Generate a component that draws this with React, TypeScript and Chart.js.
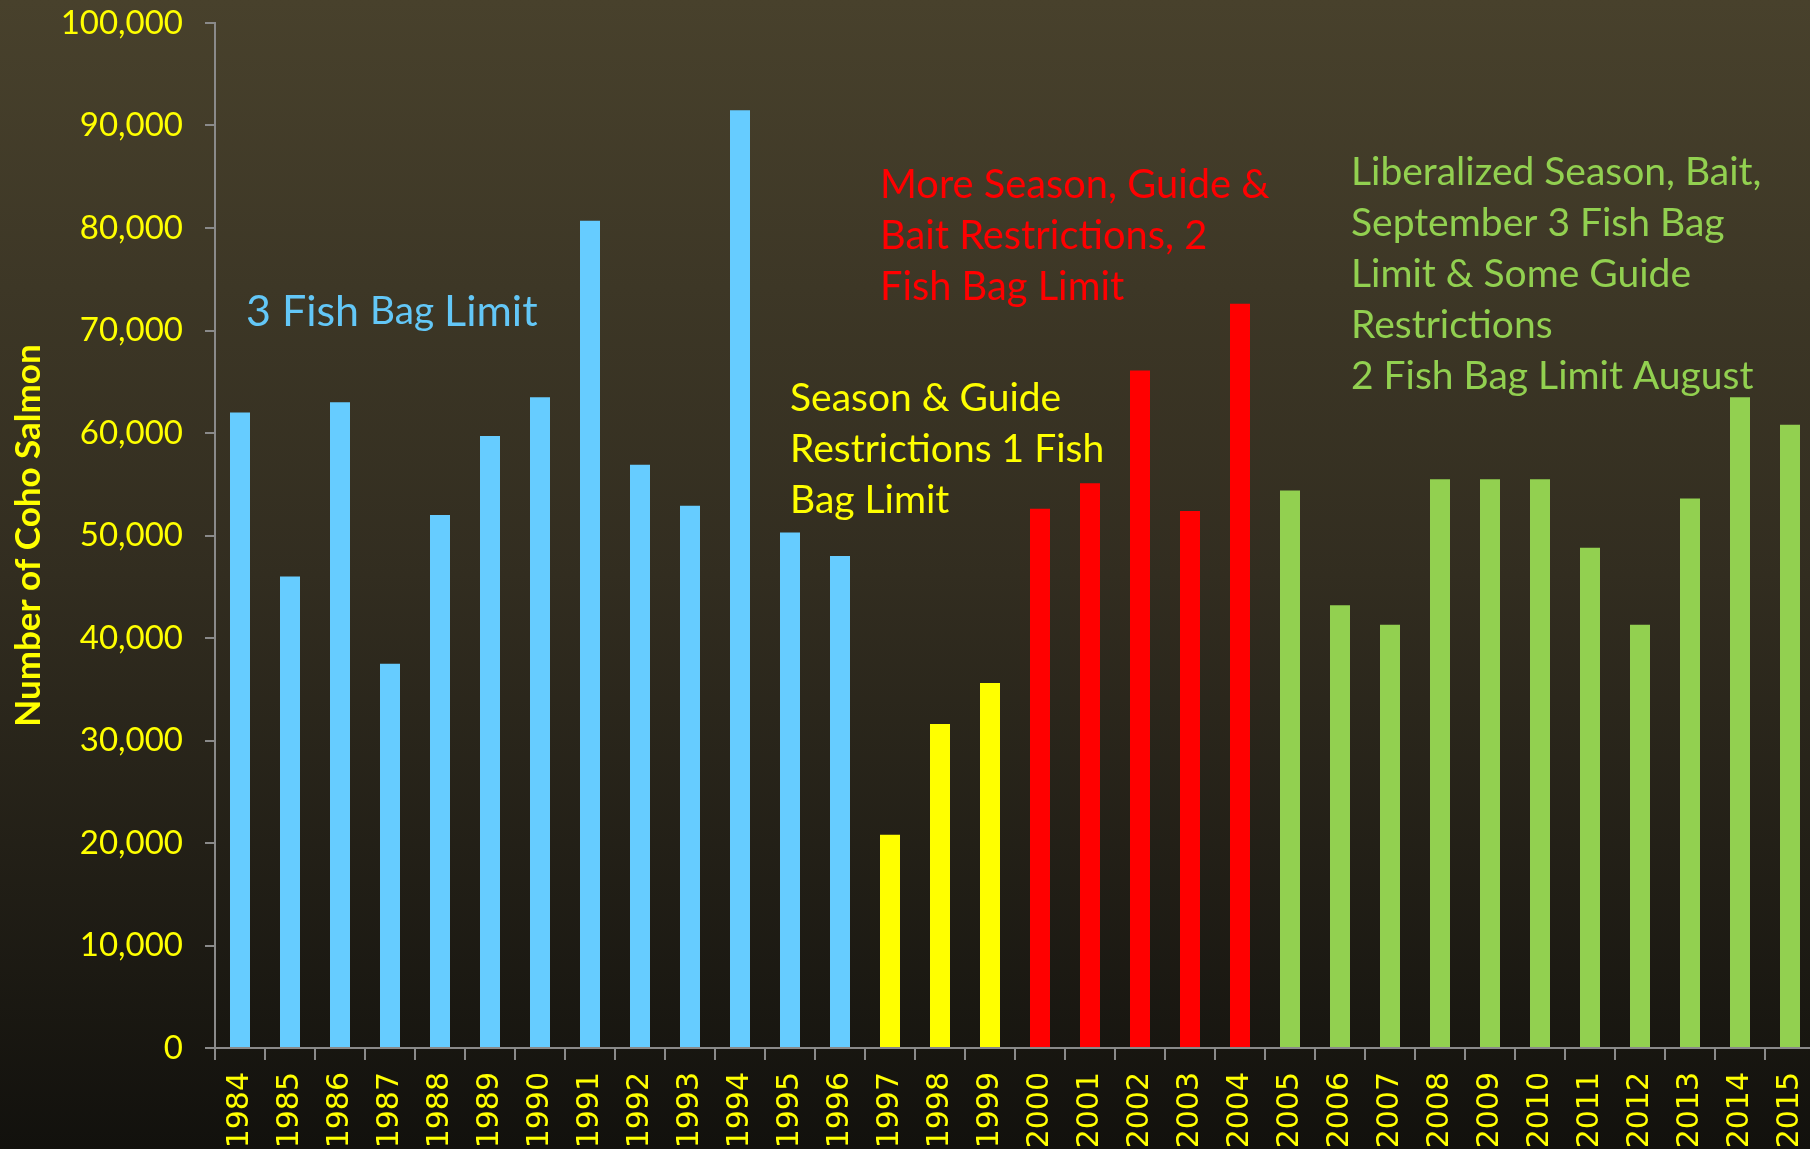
import { useEffect, useRef } from 'react';
import { Chart, registerables } from 'chart.js';

Chart.register(...registerables);

// ---------------- DATA ----------------
const years = [
  '1984', '1985', '1986', '1987', '1988', '1989', '1990', '1991', '1992', '1993', '1994',
  '1995', '1996', '1997', '1998', '1999', '2000', '2001', '2002', '2003', '2004', '2005',
  '2006', '2007', '2008', '2009', '2010', '2011', '2012', '2013', '2014', '2015',
];

const cohoCatch = [
  62000, 46000, 63000, 37500, 52000, 59700, 63500, 80700, 56900, 52900, 91500,
  50300, 48000, 20800, 31600, 35600, 52600, 55100, 66100, 52400, 72600, 54400,
  43200, 41300, 55500, 55500, 55500, 48800, 41300, 53600, 63500, 60800,
];

// regulation period of each year (index into regimeColors / regimeNotes)
const regimeOfYear = [
  0, 0, 0, 0, 0, 0, 0, 0, 0, 0, 0, 0, 0,
  1, 1, 1,
  2, 2, 2, 2, 2,
  3, 3, 3, 3, 3, 3, 3, 3, 3, 3, 3,
];

const regimeColors = ['#66CCFF', '#FFFF00', '#FF0000', '#92D050'];

const yTickValues = [0, 10000, 20000, 30000, 40000, 50000, 60000, 70000, 80000, 90000, 100000];

const yAxisTitle = 'Number of Coho Salmon';

// annotation texts (segments with relative size)
const regimeNotes = [
  [[{ t: '3 Fish ', s: 1 }, { t: 'Bag ', s: 0.9 }, { t: 'Limit', s: 1 }]],
  [[{ t: 'Season & Guide', s: 1 }], [{ t: 'Restrictions 1 Fish', s: 1 }], [{ t: 'Bag Limit', s: 1 }]],
  [[{ t: 'More Season, Guide &', s: 1 }], [{ t: 'Bait Restrictions, 2', s: 1 }], [{ t: 'Fish Bag Limit', s: 1 }]],
  [
    [{ t: 'Liberalized Season, Bait,', s: 1 }],
    [{ t: 'September 3 Fish Bag', s: 1 }],
    [{ t: 'Limit & Some Guide', s: 1 }],
    [{ t: 'Restrictions', s: 1 }],
    [{ t: '2 Fish Bag Limit August', s: 1 }],
  ],
];

// ---------------- STYLE / LAYOUT ----------------
const W = 1815;
const H = 1149;
const Y_AXIS_WIDTH = 215;
const X_AXIS_HEIGHT = 101;
const TOP_PAD = 23;
const AXIS_GRAY = '#8a8a8a';
const NOTE_FONT = 'Lato, "Open Sans", sans-serif';
const NOTE_LINE = 51;

// position (left x, first-line centre y), size and text colour of each note
const notePlacement = [
  { x: 246, y: 312, size: 43, color: '#63C7F7' },
  { x: 790, y: 398, size: 39, color: '#FFFF00' },
  { x: 880, y: 185, size: 39.8, color: '#FF0000' },
  { x: 1351, y: 172, size: 39, color: '#92D050' },
];

const backgroundPlugin = {
  id: 'bgGradient',
  beforeDraw(chart: any) {
    const { ctx, width, height } = chart;
    const g = ctx.createLinearGradient(0, 0, 0, height);
    g.addColorStop(0, '#48412c');
    g.addColorStop(0.5, '#322d20');
    g.addColorStop(1, '#12110d');
    ctx.save();
    ctx.fillStyle = g;
    ctx.fillRect(0, 0, width, height);
    ctx.restore();
  },
};

const notesPlugin = {
  id: 'regimeNotes',
  afterDraw(chart: any) {
    const { ctx } = chart;
    ctx.save();
    ctx.textBaseline = 'middle';
    ctx.textAlign = 'left';
    regimeNotes.forEach((lines, i) => {
      const p = notePlacement[i];
      ctx.fillStyle = p.color;
      lines.forEach((segs, li) => {
        let x = p.x;
        const y = p.y + li * NOTE_LINE;
        segs.forEach((seg) => {
          ctx.font = `${(p.size * seg.s).toFixed(1)}px ${NOTE_FONT}`;
          ctx.fillText(seg.t, x, y);
          x += ctx.measureText(seg.t).width;
        });
      });
    });
    ctx.restore();
  },
};

export default function App() {
  const ref = useRef<HTMLCanvasElement | null>(null);

  useEffect(() => {
    document.body.style.margin = '0';
    document.body.style.overflow = 'hidden';
    document.body.style.background = '#12110d';
    const canvas = ref.current;
    if (!canvas) return;
    const chart = new Chart(canvas, {
      type: 'bar',
      data: {
        labels: years,
        datasets: [
          {
            label: 'Coho catch',
            data: cohoCatch,
            backgroundColor: regimeOfYear.map((r) => regimeColors[r]),
            borderWidth: 0,
            categoryPercentage: 1,
            barPercentage: 0.4,
          },
        ],
      },
      options: {
        responsive: false,
        animation: false,
        layout: { padding: { top: TOP_PAD, left: 0, right: 0, bottom: 0 } },
        plugins: {
          legend: { display: false },
          tooltip: { enabled: false },
          title: { display: false },
        },
        scales: {
          x: {
            type: 'category',
            offset: true,
            grid: {
              display: true,
              offset: true,
              drawOnChartArea: false,
              drawTicks: true,
              tickLength: 12,
              color: AXIS_GRAY,
              lineWidth: 2,
            },
            border: { display: true, color: AXIS_GRAY, width: 2 },
            ticks: {
              color: '#FFFF00',
              font: { family: '"DejaVu Sans", Verdana, sans-serif', size: 30 },
              maxRotation: 90,
              minRotation: 90,
              padding: 12,
              autoSkip: false,
            },
            afterFit(scale: any) {
              scale.height = X_AXIS_HEIGHT;
              scale.paddingLeft = 0;
              scale.paddingRight = 0;
            },
          },
          y: {
            min: 0,
            max: 100000,
            afterBuildTicks(scale: any) {
              scale.ticks = yTickValues.map((v) => ({ value: v }));
            },
            grid: {
              display: true,
              drawOnChartArea: false,
              drawTicks: true,
              tickLength: 10,
              color: AXIS_GRAY,
              lineWidth: 2,
            },
            border: { display: true, color: AXIS_GRAY, width: 2 },
            ticks: {
              color: '#FFFF00',
              font: { family: 'Lato, sans-serif', size: 33 },
              padding: 22,
              callback: (v: any) => Number(v).toLocaleString('en-US'),
            },
            title: {
              display: true,
              text: yAxisTitle,
              color: '#FFFF00',
              font: { family: 'Lato, sans-serif', size: 35, weight: 'bold' },
              padding: { top: 8, bottom: 0 },
            },
            afterFit(scale: any) {
              scale.width = Y_AXIS_WIDTH;
              scale.paddingTop = 0;
              scale.paddingBottom = 0;
            },
          },
        },
      },
      plugins: [backgroundPlugin, notesPlugin],
    });
    return () => chart.destroy();
  }, []);

  return (
    <div style={{ position: 'fixed', left: 0, top: 0, width: W, height: H }}>
      <canvas ref={ref} width={W} height={H} style={{ display: 'block', width: W, height: H }} />
    </div>
  );
}
